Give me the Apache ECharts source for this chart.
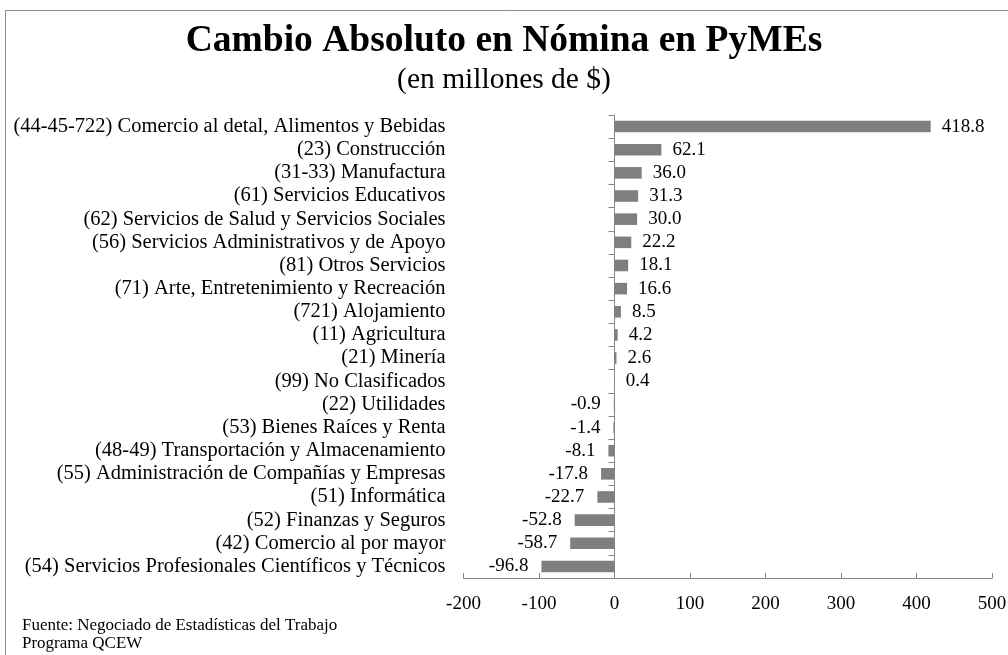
<!DOCTYPE html>
<html>
<head>
<meta charset="utf-8">
<script src="https://cdn.jsdelivr.net/npm/echarts@6/dist/echarts.min.js"></script>
<style>
  html, body { margin: 0; padding: 0; background: #fff; }
  #chart { width: 1008px; height: 655px; }
</style>
</head>
<body>
<div id="chart"></div>
<script>
// categories, top to bottom
const categories = [
  '(44-45-722) Comercio al detal, Alimentos y Bebidas',
  '(23) Construcción',
  '(31-33) Manufactura',
  '(61) Servicios Educativos',
  '(62) Servicios de Salud y Servicios Sociales',
  '(56) Servicios Administrativos y de Apoyo',
  '(81) Otros Servicios',
  '(71) Arte, Entretenimiento y Recreación',
  '(721) Alojamiento',
  '(11) Agricultura',
  '(21) Minería',
  '(99) No Clasificados',
  '(22) Utilidades',
  '(53) Bienes Raíces y Renta',
  '(48-49) Transportación y Almacenamiento',
  '(55) Administración de Compañías y Empresas',
  '(51) Informática',
  '(52) Finanzas y Seguros',
  '(42) Comercio al por mayor',
  '(54) Servicios Profesionales Científicos y Técnicos'
];
const values = [418.8, 62.1, 36.0, 31.3, 30.0, 22.2, 18.1, 16.6, 8.5, 4.2, 2.6, 0.4,
  -0.9, -1.4, -8.1, -17.8, -22.7, -52.8, -58.7, -96.8];
const xTicks = [-200, 500, 100]; // min, max, interval

const serif = '"Liberation Serif", "DejaVu Serif", serif';
const chart = echarts.init(document.getElementById('chart'));

chart.setOption({
  animation: false,
  backgroundColor: '#fff',
  title: [
    {
      text: 'Cambio Absoluto en Nómina en PyMEs',
      left: 'center', top: 17,
      textStyle: { fontFamily: serif, fontSize: 37.5, fontWeight: 'bold', color: '#000' }
    },
    {
      text: '(en millones de $)',
      left: 'center', top: 60,
      textStyle: { fontFamily: serif, fontSize: 29.5, fontWeight: 'normal', color: '#000' }
    }
  ],
  graphic: [
    {
      type: 'rect', left: 3, top: 8, silent: true,
      shape: { width: 1010, height: 660 },
      style: { fill: 'none', stroke: '#8c8c8c', lineWidth: 1 }
    },
    {
      type: 'text', left: 22, top: 617,
      style: {
        text: 'Fuente: Negociado de Estadísticas del Trabajo\nPrograma QCEW',
        font: '17px ' + serif, fill: '#000', lineHeight: 18
      }
    }
  ],
  grid: { left: 463.5, right: 16, top: 115, bottom: 77, outerBoundsMode: 'none', containLabel: false },
  xAxis: {
    type: 'value',
    min: xTicks[0], max: xTicks[1], interval: xTicks[2],
    splitLine: { show: false },
    axisLine: { show: true, lineStyle: { color: '#868686' } },
    axisTick: { show: true, inside: true, length: 5, lineStyle: { color: '#868686' } },
    axisLabel: { margin: 17, fontFamily: serif, fontSize: 19, color: '#000' }
  },
  yAxis: {
    type: 'category',
    data: categories,
    inverse: true,
    axisLine: { show: true, onZero: true, lineStyle: { color: '#868686' } },
    axisTick: { show: true, length: 6, lineStyle: { color: '#868686' } },
    axisLabel: { interval: 0, hideOverlap: false, margin: 18, fontFamily: serif, fontSize: 20.5, color: '#000' }
  },
  series: [{
    type: 'bar',
    data: values.map(v => ({
      value: v,
      label: { position: v < 0 ? 'left' : 'right', distance: v < 0 ? 13 : 11 }
    })),
    barWidth: '50%',
    itemStyle: { color: '#7f7f7f' },
    label: {
      show: true,
      fontFamily: serif, fontSize: 19, color: '#000',
      formatter: p => p.value.toFixed(1)
    }
  }]
});
</script>
</body>
</html>
